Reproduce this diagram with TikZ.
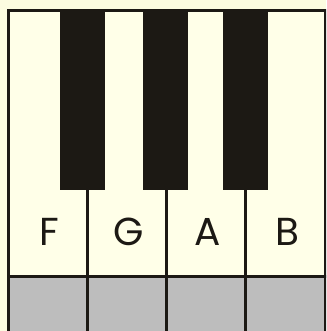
\documentclass[tikz,border=0pt]{standalone}
\usepackage{fontspec}
\setmainfont{Poppins}
\usetikzlibrary{positioning}
\definecolor{paper}{rgb}{0.99,0.99,0.88}
\definecolor{ivory}{rgb}{1.00,1.00,0.91}
\definecolor{ink}{rgb}{0.11,0.10,0.08}
\definecolor{felt}{rgb}{0.74,0.74,0.74}

\begin{document}
\begin{tikzpicture}[x=1pt,y=-1pt,
  wkey/.style={draw=ink,line width=3pt,fill=ivory},
  strip/.style={draw=ink,line width=3pt,fill=felt},
  bkey/.style={fill=ink,draw=none},
  lab/.style={font=\fontsize{39}{39}\selectfont,text=ink,inner sep=0pt}]
\fill[paper] (0,0) rectangle (326,331);
\useasboundingbox (0,0) rectangle (326,331);
\clip (0,0) rectangle (326,331);
% white keys with their felt strip
\foreach \i/\n in {0/F,1/G,2/A,3/B}{
  \draw[wkey] (8+79.25*\i,11) rectangle (8+79.25*\i+79.25,276);
  \draw[strip] (8+79.25*\i,276) rectangle (8+79.25*\i+79.25,340);
  \node[lab] (key\n) at (49.5+79.25*\i,232) {\n};
}
% black keys
\foreach \c/\n in {82.5/Fs,165.5/Gs,245.5/As}{
  \node[bkey,minimum width=45pt,minimum height=179pt,anchor=north,inner sep=0pt] (key\n) at (\c,11) {};
}
\end{tikzpicture}
\end{document}
